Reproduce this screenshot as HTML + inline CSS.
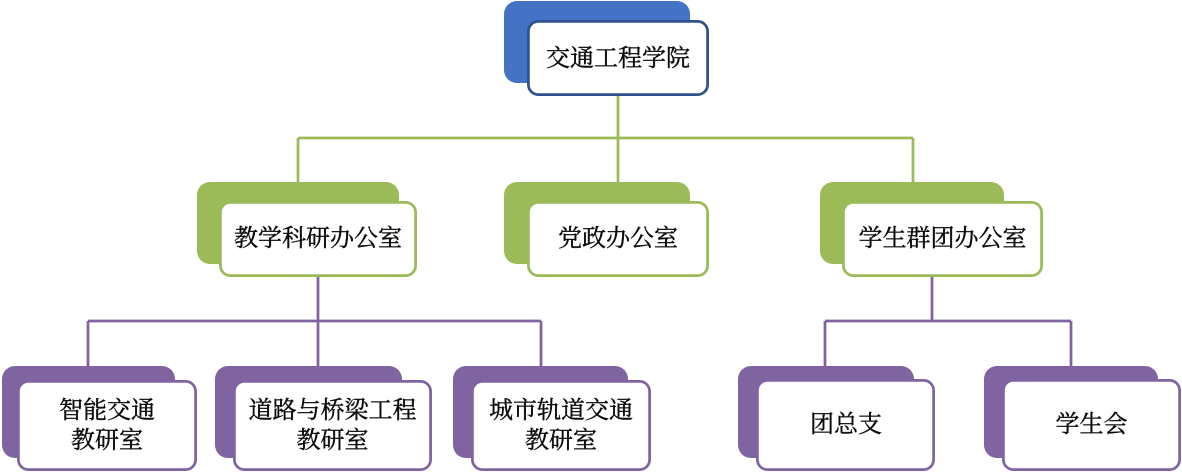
<!DOCTYPE html>
<html>
<head>
<meta charset="utf-8">
<style>
  html, body { margin: 0; padding: 0; background: #ffffff; }
  body { width: 1182px; height: 474px; overflow: hidden; }
  svg { display: block; }
  text {
    font-family: "Liberation Serif", "Noto Serif CJK SC", "Noto Sans CJK SC", serif;
    font-size: 24px;
    fill: #0a0a0a;
    stroke: #0a0a0a;
    stroke-width: 0.4px;
  }
</style>
</head>
<body>
<svg width="1182" height="474" viewBox="0 0 1182 474" xmlns="http://www.w3.org/2000/svg">
  <!-- Connectors: green -->
  <g stroke="#9bbb59" stroke-width="2.75" fill="none">
    <path d="M618 96 V138"/>
    <path d="M298 138 H913"/>
    <path d="M298 138 V183"/>
    <path d="M618 138 V183"/>
    <path d="M913 138 V183"/>
  </g>
  <!-- Connectors: purple -->
  <g stroke="#8064a2" stroke-width="2.75" fill="none">
    <path d="M318 277 V321"/>
    <path d="M88 321 H541"/>
    <path d="M88 321 V367"/>
    <path d="M318 321 V367"/>
    <path d="M541 321 V367"/>
    <path d="M932 277 V321"/>
    <path d="M825 321 H1071"/>
    <path d="M825 321 V367"/>
    <path d="M1071 321 V367"/>
  </g>

  <!-- Top node -->
  <rect x="504" y="1" width="186" height="82" rx="13" fill="#4472c4"/>
  <rect x="528.4" y="21.4" width="179.2" height="73.2" rx="10" fill="#ffffff" stroke="#2f528f" stroke-width="2.75"/>
  <text x="618" y="59" text-anchor="middle" dominant-baseline="central">交通工程学院</text>

  <!-- Level 2 -->
  <g>
    <rect x="197" y="182" width="202" height="82" rx="13" fill="#9bbb59"/>
    <rect x="220.4" y="202.4" width="195.2" height="73.2" rx="10" fill="#ffffff" stroke="#9bbb59" stroke-width="2.75"/>
    <text x="318" y="239" text-anchor="middle" dominant-baseline="central">教学科研办公室</text>

    <rect x="504" y="182" width="186" height="82" rx="13" fill="#9bbb59"/>
    <rect x="528.4" y="202.4" width="179.2" height="73.2" rx="10" fill="#ffffff" stroke="#9bbb59" stroke-width="2.75"/>
    <text x="618" y="239" text-anchor="middle" dominant-baseline="central">党政办公室</text>

    <rect x="820" y="182" width="184" height="82" rx="13" fill="#9bbb59"/>
    <rect x="843.4" y="202.4" width="198.2" height="73.2" rx="10" fill="#ffffff" stroke="#9bbb59" stroke-width="2.75"/>
    <text x="942.5" y="239" text-anchor="middle" dominant-baseline="central">学生群团办公室</text>
  </g>

  <!-- Level 3 -->
  <g>
    <rect x="2" y="366" width="173" height="92" rx="13" fill="#8064a2"/>
    <rect x="18.4" y="381.4" width="177.2" height="88.2" rx="10" fill="#ffffff" stroke="#8064a2" stroke-width="2.75"/>
    <text x="107" y="411" text-anchor="middle" dominant-baseline="central">智能交通</text>
    <text x="107" y="441" text-anchor="middle" dominant-baseline="central">教研室</text>

    <rect x="215" y="366" width="187" height="92" rx="13" fill="#8064a2"/>
    <rect x="234.4" y="381.4" width="196.2" height="88.2" rx="10" fill="#ffffff" stroke="#8064a2" stroke-width="2.75"/>
    <text x="332.5" y="411" text-anchor="middle" dominant-baseline="central">道路与桥梁工程</text>
    <text x="332.5" y="441" text-anchor="middle" dominant-baseline="central">教研室</text>

    <rect x="453" y="366" width="175" height="92" rx="13" fill="#8064a2"/>
    <rect x="472.4" y="381.4" width="177.2" height="88.2" rx="10" fill="#ffffff" stroke="#8064a2" stroke-width="2.75"/>
    <text x="561" y="411" text-anchor="middle" dominant-baseline="central">城市轨道交通</text>
    <text x="561" y="441" text-anchor="middle" dominant-baseline="central">教研室</text>

    <rect x="738" y="366" width="176" height="92" rx="13" fill="#8064a2"/>
    <rect x="757.4" y="380.4" width="176.2" height="89.2" rx="10" fill="#ffffff" stroke="#8064a2" stroke-width="2.75"/>
    <text x="846" y="425" text-anchor="middle" dominant-baseline="central">团总支</text>

    <rect x="984" y="366" width="174" height="92" rx="13" fill="#8064a2"/>
    <rect x="1003.4" y="380.4" width="176.2" height="89.2" rx="10" fill="#ffffff" stroke="#8064a2" stroke-width="2.75"/>
    <text x="1091.5" y="425" text-anchor="middle" dominant-baseline="central">学生会</text>
  </g>
</svg>
</body>
</html>
